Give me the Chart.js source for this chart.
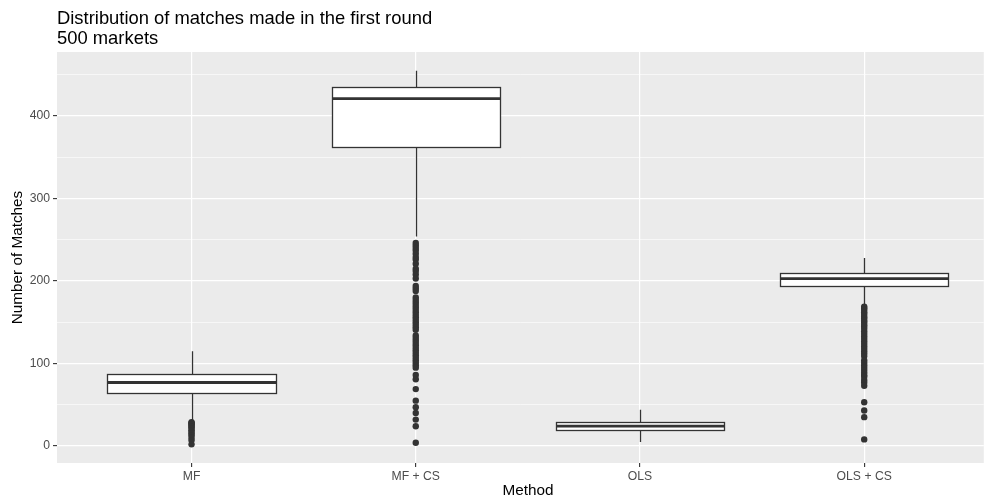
<!DOCTYPE html>
<html>
<head>
<meta charset="utf-8">
<script src="https://cdn.jsdelivr.net/npm/chart.js@4"></script>
<style>
  body { margin: 0; background: #ffffff; overflow: hidden; }
  canvas { display: block; }
</style>
</head>
<body>
<canvas id="chart_matches" width="987" height="499"></canvas>
<script>
// categories and box stats
const categories = ['MF', 'MF + CS', 'OLS', 'OLS + CS'];
const lowerWhisker = [31, 254, 5, 171];
const q1 = [64, 362, 19, 194];
const median = [77, 421, 24, 203];
const q3 = [87, 435, 28.5, 210];
const upperWhisker = [115, 455, 44, 228];

// outliers per method
const outliersMF = [29, 28, 27, 26, 24, 23, 21, 19, 17, 15, 13, 10, 7, 2];
const outliersMFCS = [246, 243, 240, 237, 233, 229, 226, 221, 215, 212, 208, 203, 194, 191, 188,
  180, 177, 174, 171, 168, 165, 162, 159, 156, 153, 150, 147, 144, 141,
  134, 131, 128, 125, 122, 119, 116, 113, 110, 107, 104, 101, 98, 95,
  86, 81, 69, 55, 47, 40, 32, 24, 4];
const outliersOLS = [];
const outliersOLSCS = [169, 167, 165, 162, 160, 157, 155, 152, 150, 147, 145, 142, 139, 136, 133,
  130, 127, 124, 121, 118, 115, 112, 109, 104, 101, 98, 95, 92, 89, 86, 84,
  80, 77, 73, 53, 43, 35, 8];

const yTicks = [0, 100, 200, 300, 400];
const yGrid = [0, 50, 100, 150, 200, 250, 300, 350, 400, 450];

const titleLines = ['Distribution of matches made in the first round', '500 markets'];
const xTitle = 'Method';
const yTitle = 'Number of Matches';

const allOutliers = [outliersMF, outliersMFCS, outliersOLS, outliersOLSCS];
const outlierPoints = [];
allOutliers.forEach(function (list, i) {
  list.forEach(function (v) {
    outlierPoints.push({ x: i + 1, y: v });
  });
});

const fontFamily = '"Liberation Sans", Arial, Helvetica, sans-serif';
const dark = '#333333';

const boxPlugin = {
  id: 'boxes',
  beforeDraw: function (chart) {
    const a = chart.chartArea;
    const ctx = chart.ctx;
    ctx.save();
    ctx.fillStyle = '#EBEBEB';
    ctx.fillRect(a.left, a.top, a.right - a.left, a.bottom - a.top);
    ctx.restore();
  },
  beforeDatasetsDraw: function (chart) {
    const ctx = chart.ctx;
    const xs = chart.scales.x;
    const ys = chart.scales.y;
    ctx.save();
    ctx.strokeStyle = dark;
    categories.forEach(function (c, i) {
      const cx = Math.round(xs.getPixelForValue(i + 1)) + 0.5;
      const left = Math.round(xs.getPixelForValue(i + 1 - 0.375)) + 0.5;
      const right = Math.round(xs.getPixelForValue(i + 1 + 0.375)) + 0.5;
      const top = Math.round(ys.getPixelForValue(q3[i])) + 0.5;
      const bottom = Math.round(ys.getPixelForValue(q1[i])) + 0.5;

      // whiskers
      ctx.lineWidth = 1.3;
      ctx.beginPath();
      ctx.moveTo(cx, ys.getPixelForValue(upperWhisker[i]));
      ctx.lineTo(cx, top);
      ctx.moveTo(cx, bottom);
      ctx.lineTo(cx, ys.getPixelForValue(lowerWhisker[i]));
      ctx.stroke();

      // box
      ctx.fillStyle = '#ffffff';
      ctx.fillRect(left, top, right - left, bottom - top);
      ctx.strokeRect(left, top, right - left, bottom - top);

      // median
      ctx.lineWidth = 2.8;
      const my = ys.getPixelForValue(median[i]);
      ctx.beginPath();
      ctx.moveTo(left, my);
      ctx.lineTo(right, my);
      ctx.stroke();
    });
    ctx.restore();
  },
  afterDraw: function (chart) {
    const ctx = chart.ctx;
    const a = chart.chartArea;
    ctx.save();
    ctx.fillStyle = '#000000';
    ctx.font = '18.4px ' + fontFamily;
    ctx.textAlign = 'left';
    ctx.textBaseline = 'alphabetic';
    ctx.fillText(titleLines[0], a.left, 24);
    ctx.fillText(titleLines[1], a.left, 44);

    ctx.font = '15.3px ' + fontFamily;
    ctx.textAlign = 'center';
    ctx.textBaseline = 'middle';
    ctx.fillText(xTitle, 528, 491);

    ctx.translate(18, (a.top + a.bottom) / 2);
    ctx.rotate(-Math.PI / 2);
    ctx.fillText(yTitle, 0, 0);
    ctx.restore();
  }
};

const chart_matches = document.getElementById('chart_matches');

new Chart(chart_matches, {
  type: 'scatter',
  data: {
    datasets: [
      {
        data: outlierPoints,
        pointRadius: 3.2,
        pointBackgroundColor: dark,
        pointBorderColor: dark,
        pointBorderWidth: 0,
        pointHoverRadius: 3.2,
      },
    ],
  },
  plugins: [boxPlugin],
  options: {
    responsive: false,
    animation: false,
    layout: {
      padding: { top: 52, left: 0, right: 0, bottom: 0 },
    },
    plugins: {
      legend: false,
      tooltip: { enabled: false },
    },
    scales: {
      x: {
        type: 'linear',
        min: 0.4,
        max: 4.5333,
        afterBuildTicks: function (scale) {
          scale.ticks = categories.map(function (c, i) { return { value: i + 1 }; });
        },
        afterFit: function (scale) {
          scale.height = 36;
        },
        border: { display: false },
        grid: {
          color: '#ffffff',
          lineWidth: 1.2,
          tickColor: dark,
          tickLength: 4,
          tickWidth: 1.1,
        },
        ticks: {
          color: '#4D4D4D',
          padding: 2,
          maxRotation: 0,
          autoSkip: false,
          font: { family: fontFamily, size: 12.2 },
          callback: function (v) {
            return categories[v - 1];
          },
        },
      },
      y: {
        min: -20.6,
        max: 477.6,
        afterBuildTicks: function (scale) {
          scale.ticks = yGrid.map(function (v) { return { value: v }; });
        },
        afterFit: function (scale) {
          scale.width = 57;
        },
        border: { display: false },
        grid: {
          color: '#ffffff',
          lineWidth: function (ctx) {
            return yTicks.indexOf(ctx.tick.value) >= 0 ? 1.2 : 0.6;
          },
          tickColor: function (ctx) {
            return yTicks.indexOf(ctx.tick.value) >= 0 ? dark : 'rgba(0,0,0,0)';
          },
          tickLength: 4,
          tickWidth: 1.1,
        },
        ticks: {
          color: '#4D4D4D',
          padding: 3,
          autoSkip: false,
          font: { family: fontFamily, size: 12.2 },
          callback: function (v) {
            return yTicks.indexOf(v) >= 0 ? String(v) : '';
          },
        },
      },
    },
  },
});
</script>
</body>
</html>
